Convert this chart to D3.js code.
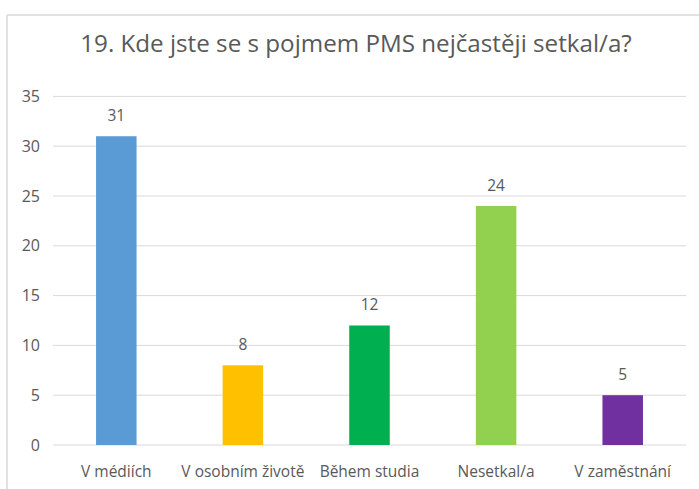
<!DOCTYPE html>
<html><head><meta charset="utf-8">
<script src="https://cdn.jsdelivr.net/npm/d3@7"></script>
<style>
html,body{margin:0;padding:0;background:#fff;}
svg{display:block;}
text{font-family:"Open Sans",sans-serif;fill:#595959;}
</style></head>
<body>
<svg id="chart" width="699" height="489"></svg>
<script>
const title = "19. Kde jste se s pojmem PMS nejčastěji setkal/a?";
const categories = ["V médiích", "V osobním životě", "Během studia", "Nesetkal/a", "V zaměstnání"];
const values = [31, 8, 12, 24, 5];
const colors = ["#5B9BD5", "#FFC000", "#00B050", "#92D050", "#7030A0"];
const yTicks = [0, 5, 10, 15, 20, 25, 30, 35];

const svg = d3.select("#chart");
// chart border (top and left visible)
svg.append("line").attr("x1",7).attr("x2",699).attr("y1",15).attr("y2",15).attr("stroke","#d9d9d9").attr("stroke-width",1.5);
svg.append("line").attr("x1",7).attr("x2",7).attr("y1",15).attr("y2",489).attr("stroke","#d9d9d9").attr("stroke-width",1.5);

svg.append("text").attr("x",356).attr("y",52).attr("text-anchor","middle")
  .style("font-size","24.2px").text(title);

const x = d3.scaleBand().domain(categories).range([53, 686]).paddingInner(0.68).paddingOuter(0.34);
const y = d3.scaleLinear().domain([0, 35]).range([445, 96.4]);

// gridlines
svg.append("g").selectAll("line").data(yTicks).join("line")
  .attr("x1",53).attr("x2",686).attr("y1",d=>y(d)).attr("y2",d=>y(d))
  .attr("stroke","#d9d9d9").attr("stroke-width",1);

// y labels
svg.append("g").selectAll("text").data(yTicks).join("text")
  .attr("x",40).attr("y",d=>y(d)).attr("dy","0.35em").attr("text-anchor","end")
  .style("font-size","16px").text(d=>d);

// bars
svg.append("g").selectAll("rect").data(values).join("rect")
  .attr("x",(d,i)=>x(categories[i])).attr("width",x.bandwidth())
  .attr("y",d=>y(d)).attr("height",d=>y(0)-y(d))
  .attr("fill",(d,i)=>colors[i]);

// value labels
svg.append("g").selectAll("text").data(values).join("text")
  .attr("x",(d,i)=>x(categories[i])+x.bandwidth()/2).attr("y",d=>y(d)-15)
  .attr("text-anchor","middle").style("font-size","15.5px").text(d=>d);

// category labels
svg.append("g").selectAll("text").data(categories).join("text")
  .attr("x",d=>x(d)+x.bandwidth()/2).attr("y",477)
  .attr("text-anchor","middle").style("font-size","15.5px").text(d=>d);
</script>
</body></html>
